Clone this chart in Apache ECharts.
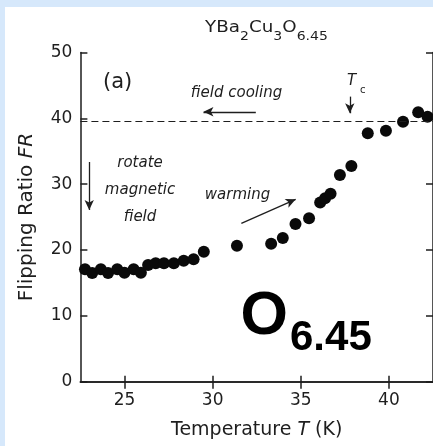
<!DOCTYPE html>
<html><head><meta charset="utf-8">
<script src="https://cdn.jsdelivr.net/npm/echarts@6/dist/echarts.min.js"></script>
<style>
html,body{margin:0;padding:0;width:433px;height:446px;background:#d6e8fb;overflow:hidden;}
#main{position:absolute;left:5px;top:7px;width:428px;height:439px;background:#fff;}
</style></head><body><div id="main"></div>
<script>
// Data
const temperatureK = [22.76, 23.17, 23.66, 24.07, 24.59, 25.00, 25.52, 25.93, 26.34, 26.77,
  27.24, 27.80, 28.36, 28.92, 29.50, 31.38, 33.32, 33.98, 34.70, 35.47,
  36.10, 36.38, 36.69, 37.22, 37.87, 38.80, 39.83, 40.80, 41.66, 42.19];
const flippingRatio = [17.07, 16.50, 17.07, 16.50, 17.07, 16.56, 17.07, 16.56, 17.72, 17.98,
  17.98, 17.98, 18.38, 18.59, 19.74, 20.66, 20.95, 21.83, 23.95, 24.82,
  27.20, 27.86, 28.55, 31.39, 32.76, 37.73, 38.12, 39.49, 40.92, 40.25];
const xTickValues = [25, 30, 35, 40];
const xRange = [22.5, 42.5];
const yRange = [0, 50];
const yInterval = 10;
const fieldCoolingLevel = 39.5;
// annotation arrows [start, end] in data units
const arrowLines = [
  [[32.45, 41.0], [29.48, 41.0]],   // field cooling
  [[37.78, 43.3], [37.78, 40.77]],  // Tc
  [[23.0, 33.37], [23.0, 26.08]],   // rotate magnetic field
  [[31.63, 24.06], [34.71, 27.7]]   // warming
];

const FONT = '"DejaVu Sans", sans-serif';
const INK = '#1e1e1e';
const chart = echarts.init(document.getElementById('main'), null, {renderer: 'canvas'});

const axisLineStyle = {color: INK, width: 1.5};
const points = temperatureK.map((t, i) => [t, flippingRatio[i]]);

const option = {
  animation: false,
  grid: {left: 75.4, right: -4.4, top: 45.5, bottom: 64.3},
  xAxis: [{
    type: 'value', min: xRange[0], max: xRange[1], position: 'bottom',
    axisLine: {lineStyle: axisLineStyle},
    axisTick: {inside: true, length: 6, customValues: xTickValues, lineStyle: axisLineStyle},
    axisLabel: {customValues: xTickValues, fontSize: 17, fontFamily: FONT, color: INK, margin: 10},
    splitLine: {show: false},
    name: 'Temperature {i|T} (K)', nameLocation: 'middle', nameGap: 39,
    nameTextStyle: {fontSize: 19, fontFamily: FONT, color: INK,
      rich: {i: {fontSize: 19, fontFamily: FONT, fontStyle: 'italic', color: INK}}}
  }, {
    type: 'value', min: xRange[0], max: xRange[1], position: 'top',
    axisLine: {lineStyle: axisLineStyle},
    axisTick: {inside: true, length: 7, customValues: xTickValues, lineStyle: axisLineStyle},
    axisLabel: {show: false}, splitLine: {show: false}
  }],
  yAxis: [{
    type: 'value', min: yRange[0], max: yRange[1], interval: yInterval, position: 'left',
    axisLine: {show: true, lineStyle: axisLineStyle},
    axisTick: {show: true, inside: true, length: 7, lineStyle: axisLineStyle},
    axisLabel: {fontSize: 17, fontFamily: FONT, color: INK, margin: 8},
    splitLine: {show: false},
    name: 'Flipping Ratio {i|FR}', nameLocation: 'middle', nameGap: 44,
    nameTextStyle: {fontSize: 20, fontFamily: FONT, color: INK,
      rich: {i: {fontSize: 20, fontFamily: FONT, fontStyle: 'italic', color: INK}}}
  }, {
    type: 'value', min: yRange[0], max: yRange[1], interval: yInterval, position: 'right',
    axisLine: {show: true, lineStyle: axisLineStyle},
    axisTick: {show: true, inside: true, length: 7, lineStyle: axisLineStyle},
    axisLabel: {show: false}, splitLine: {show: false}
  }],
  series: [{
    type: 'scatter', xAxisIndex: 0, yAxisIndex: 0,
    data: points, symbolSize: 12,
    itemStyle: {color: '#0a0a0a', opacity: 1},
    silent: true,
    markLine: {
      silent: true, symbol: ['none', 'none'], animation: false,
      label: {show: false},
      lineStyle: {color: INK, width: 1.3, type: 'solid'},
      data: [
        {yAxis: fieldCoolingLevel, lineStyle: {type: [7, 4], width: 1.2, color: INK}}
      ].concat(arrowLines.map(a => [
        {coord: a[0], symbol: 'none'},
        {coord: a[1], symbol: 'arrow', symbolSize: [7, 10]}
      ]))
    }
  }],
  graphic: [
    {type: 'text', x: 261.5, y: 13.5, scaleX: 1.22, originX: 0, originY: 0, style: {
      text: '{m|YBa}{s|2}{m|Cu}{s|3}{m|O}{s|6.45}', align: 'center', verticalAlign: 'top',
      fill: INK,
      rich: {
        m: {fontSize: 15, fontFamily: FONT, fill: INK, verticalAlign: 'top', lineHeight: 16},
        s: {fontSize: 11.5, fontFamily: FONT, fill: INK, verticalAlign: 'top', lineHeight: 12, padding: [10.5, 0, 0, 0]}
      }
    }},
    {type: 'text', x: 98, y: 75.5, style: {text: '(a)', font: '21px ' + FONT, fill: INK, align: 'left', verticalAlign: 'middle'}},
    {type: 'text', x: 231.5, y: 86.5, style: {text: 'field cooling', font: 'italic 15px ' + FONT, fill: INK, align: 'center', verticalAlign: 'middle'}},
    {type: 'text', x: 342, y: 74, style: {text: 'T', font: 'italic 15px ' + FONT, fill: INK, align: 'left', verticalAlign: 'middle'}},
    {type: 'text', x: 355, y: 83, style: {text: 'c', font: '10px ' + FONT, fill: INK, align: 'left', verticalAlign: 'middle'}},
    {type: 'text', x: 135, y: 156, style: {text: 'rotate', font: 'italic 15px ' + FONT, fill: INK, align: 'center', verticalAlign: 'middle'}},
    {type: 'text', x: 135, y: 183, style: {text: 'magnetic', font: 'italic 15px ' + FONT, fill: INK, align: 'center', verticalAlign: 'middle'}},
    {type: 'text', x: 135, y: 210, style: {text: 'field', font: 'italic 15px ' + FONT, fill: INK, align: 'center', verticalAlign: 'middle'}},
    {type: 'text', x: 232.5, y: 188, style: {text: 'warming', font: 'italic 15px ' + FONT, fill: INK, align: 'center', verticalAlign: 'middle'}},
    {type: 'text', x: 235.6, y: 310.5, style: {text: 'O', font: 'bold 61px "Liberation Sans", Arial, sans-serif', fill: '#000', align: 'left', verticalAlign: 'middle'}},
    {type: 'text', x: 285, y: 331, style: {text: '6.45', font: 'bold 42px "Liberation Sans", Arial, sans-serif', fill: '#000', align: 'left', verticalAlign: 'middle'}}
  ]
};
chart.setOption(option);
</script></body></html>
